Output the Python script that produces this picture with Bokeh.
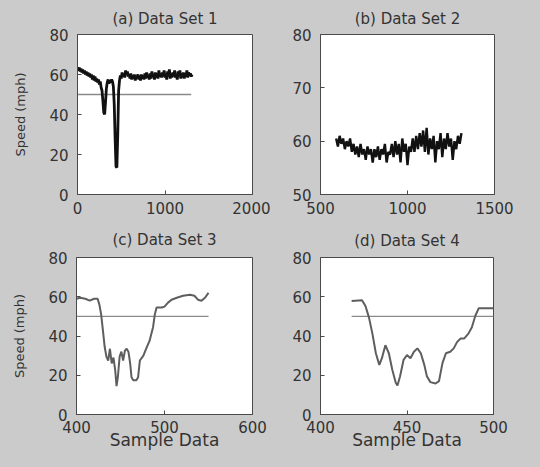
from bokeh.plotting import figure
from bokeh.layouts import column, row
from bokeh.models import Range1d, FixedTicker
from bokeh.embed import file_html
from bokeh.resources import INLINE

# ---------------- data ----------------
titles = ["(a) Data Set 1", "(b) Data Set 2", "(c) Data Set 3", "(d) Data Set 4"]
y_label = "Speed (mph)"
x_label = "Sample Data"
threshold = 50

# Data Set 1: sampled every 10 samples starting at 0
set1_start, set1_step = 0, 10
set1_speed = [63, 62, 63.5, 61.5, 63, 61, 62.5, 60.5, 62, 60,
              61.5, 59.5, 61, 59, 60.5, 58.5, 60, 57.5, 59.5, 57,
              59, 56.5, 58, 56, 57.5, 55, 56.5, 53.5, 52, 47,
              41, 40, 46, 53, 56, 57.5, 55.5, 57, 56, 57.5,
              56.5, 54, 45, 28, 14, 13.5, 30, 52, 57, 59.5,
              58, 61, 59, 60.5, 58.5, 62, 60, 61.5, 59, 60,
              58, 60.5, 57.5, 59.5, 58, 60, 57, 59, 58.5, 60,
              57.5, 59.5, 57, 60, 58, 59.5, 57.5, 60.5, 58, 61,
              58.5, 59.5, 57.5, 60.5, 58, 61.5, 59, 60, 57.5, 61,
              58.5, 60.5, 58, 62, 59, 60.5, 58.5, 61, 59, 62,
              58.5, 60, 57.5, 61.5, 59, 62.5, 58, 60.5, 58.5, 61,
              59, 62, 58.5, 60, 57.5, 61.5, 59.5, 62, 58, 60.5,
              58.5, 61, 58, 60.5, 59, 62, 58.5, 61, 59.5, 60.5,
              59, 60]
set1_threshold_x = [0, 1300]

# Data Set 2: sampled every 10 samples starting at 590
set2_start, set2_step = 590, 10
set2_speed = [60.5, 59, 61, 59.5, 60.5, 58.5, 60, 59, 60.5, 58,
              59.5, 57.5, 59, 57, 59.5, 57.5, 58.5, 56.5, 59, 57.5,
              58.5, 56, 58.5, 57, 59, 56.5, 58.5, 57.5, 59.5, 56,
              58, 57.5, 59.5, 57, 60, 57.5, 59.5, 56, 60.5, 58,
              59.5, 55.5, 59, 58, 60.5, 58, 61, 58.5, 61.5, 59,
              62, 58, 62.5, 57.5, 60.5, 58.5, 61, 56, 60, 58.5,
              61.5, 57, 60.5, 58.5, 61.5, 59, 60.5, 56.5, 60, 58.5,
              61, 59.5, 61.5]

# Data Set 3
set3_x = [400, 404, 410, 415, 420, 424, 426, 428, 430, 432,
          434, 436, 438, 440, 442, 444, 445.5, 447, 449, 451,
          453, 455, 457, 459, 461, 462.5, 464.5, 468, 470, 472,
          476, 480, 483, 485, 487, 489, 491, 497, 500, 504,
          508, 514, 521, 529, 534, 538, 542, 546, 550]
set3_speed = [59, 59.5, 59, 58, 59, 59, 56, 51, 43, 34.5,
              29.5, 27.5, 33.5, 26, 29, 22.5, 14.5, 19, 29.5, 32,
              27.5, 32.5, 33.5, 32, 26, 19, 17.5, 17.5, 19, 27.5,
              30, 34.5, 37.5, 41, 44.5, 51, 54.5, 54.5, 55, 57,
              58.5, 59.5, 60.5, 61, 60.5, 58.5, 58, 59.5, 62]
set3_threshold_x = [400, 550]

# Data Set 4
set4_x = [418, 424, 426, 428, 430, 432, 434, 435.5, 437.5, 439.5,
          441.5, 443.5, 444.5, 446, 448, 450, 452, 454, 456, 458,
          460, 461.5, 463.5, 466.5, 468.5, 470.5, 472.5, 475, 477, 479,
          481, 483, 485.5, 487.5, 489.5, 491.5, 495.5, 500]
set4_speed = [57.8, 58.2, 55.3, 49.5, 41.2, 31.2, 25.3, 28.7, 35.3, 31.2,
              22.8, 16.2, 14.8, 19.5, 27.8, 30.3, 28.7, 32, 33.7, 31.2,
              25.3, 19.5, 16.5, 15.8, 17, 26.2, 31.2, 32, 33.7, 37,
              38.7, 38.7, 41.2, 44.5, 50.3, 54.2, 54.2, 54.2]
set4_threshold_x = [418, 500]

# axes
x_ranges = [(0, 2000), (500, 1500), (400, 600), (400, 500)]
y_ranges = [(0, 80), (50, 80), (0, 80), (0, 80)]
x_ticks = [[0, 1000, 2000], [500, 1000, 1500], [400, 500, 600], [400, 450, 500]]
y_ticks = [[0, 20, 40, 60, 80], [50, 60, 70, 80], [0, 20, 40, 60, 80], [0, 20, 40, 60, 80]]

# ---------------- style ----------------
BG = "#cbcbcb"
FRAME = "#4a4a4a"
TXT = "#333333"
FONT = "DejaVu Sans"


def make_fig(i, w, h, left, right, top, bottom, title_standoff, xtick_standoff,
             show_ylabel, show_xlabel):
    p = figure(width=w, height=h,
               x_range=Range1d(*x_ranges[i]), y_range=Range1d(*y_ranges[i]),
               output_backend="svg", toolbar_location=None,
               min_border_left=left, min_border_right=right,
               min_border_top=top, min_border_bottom=bottom)
    p.border_fill_color = BG
    p.background_fill_color = "white"
    p.outline_line_color = FRAME
    p.outline_line_width = 1
    p.grid.visible = False

    p.title.text = titles[i]
    p.title.align = "center"
    p.title.text_font = FONT
    p.title.text_font_size = "15px"
    p.title.text_font_style = "normal"
    p.title.text_color = TXT
    p.title.standoff = title_standoff

    for ax, ticks in ((p.xaxis[0], x_ticks[i]), (p.yaxis[0], y_ticks[i])):
        ax.ticker = FixedTicker(ticks=ticks)
        ax.major_label_text_font = FONT
        ax.major_label_text_font_size = "15px"
        ax.major_label_text_color = TXT
        ax.major_tick_in = 4
        ax.major_tick_out = 0
        ax.minor_tick_line_color = None
        ax.axis_line_color = FRAME
        ax.major_tick_line_color = FRAME
        ax.axis_label_text_font = FONT
        ax.axis_label_text_font_style = "normal"
        ax.axis_label_text_color = TXT
    p.xaxis[0].major_label_standoff = xtick_standoff
    p.yaxis[0].major_label_standoff = 9

    if show_ylabel:
        p.yaxis[0].axis_label = y_label
        p.yaxis[0].axis_label_text_font_size = "13px"
        p.yaxis[0].axis_label_standoff = 18
    if show_xlabel:
        p.xaxis[0].axis_label = x_label
        p.xaxis[0].axis_label_text_font_size = "17px"
        p.xaxis[0].axis_label_standoff = -6
    return p


# Columns 270 + 270 = 540, rows 220 + 247 = 467
pa = make_fig(0, 270, 220, 77, 18, 33, 25, 13, 7, True, False)
pb = make_fig(1, 270, 220, 50, 46, 34, 26, 14, 7, False, False)
pc = make_fig(2, 270, 247, 76, 18, 36, 52, 17, 6, True, True)
pd = make_fig(3, 270, 247, 50, 47, 34, 53, 15, 6, False, True)

x1 = list(range(set1_start, set1_start + set1_step * len(set1_speed), set1_step))
x2 = list(range(set2_start, set2_start + set2_step * len(set2_speed), set2_step))

TH = "#8a8a8a"
pa.line(set1_threshold_x, [threshold] * len(set1_threshold_x), line_color=TH, line_width=1.3)
pa.line(x1, set1_speed, line_color="#111111", line_width=2.8)

pb.line(x2, set2_speed, line_color="#111111", line_width=2.4)

pc.line(set3_threshold_x, [threshold] * len(set3_threshold_x), line_color=TH, line_width=1.3)
pc.line(set3_x, set3_speed, line_color="#5e5e5e", line_width=2)

pd.line(set4_threshold_x, [threshold] * len(set4_threshold_x), line_color=TH, line_width=1.3)
pd.line(set4_x, set4_speed, line_color="#5e5e5e", line_width=2)

layout = column(row(pa, pb), row(pc, pd))
layout.styles = {"background-color": BG}

open("out.html", "w").write(file_html(layout, INLINE))
